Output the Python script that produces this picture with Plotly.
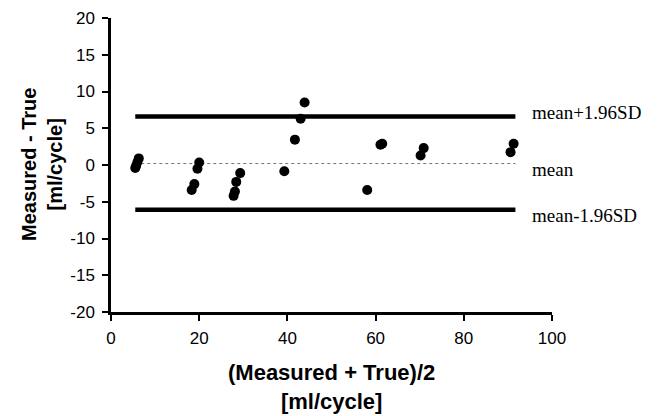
import plotly.graph_objects as go

avg = [5.5, 5.7, 6.0, 6.3, 18.3, 18.9, 19.6, 20.0, 27.8, 28.1, 28.4, 29.3,
       39.3, 41.7, 43.0, 43.9, 58.1, 61.1, 61.5, 70.2, 70.9, 90.6, 91.3]
diff = [-0.4, -0.1, 0.4, 0.9, -3.4, -2.6, -0.5, 0.35, -4.2, -3.6, -2.3, -1.1,
        -0.85, 3.45, 6.3, 8.5, -3.4, 2.75, 2.9, 1.3, 2.3, 1.75, 2.9]

mean_val = 0.2
upper_val = 6.6
lower_val = -6.1
line_labels = ["mean+1.96SD", "mean", "mean-1.96SD"]

x_ticks = [0, 20, 40, 60, 80, 100]
y_ticks = [-20, -15, -10, -5, 0, 5, 10, 15, 20]
y_ticktext = ["-20", "-15", "-10", "-5", "0", "5", "10", "15", "20"]

xr = [min(avg), max(avg) + 0.4]

fig = go.Figure()
fig.add_trace(go.Scatter(x=xr, y=[upper_val, upper_val], mode="lines",
                         line=dict(color="black", width=4.5), showlegend=False))
fig.add_trace(go.Scatter(x=xr, y=[lower_val, lower_val], mode="lines",
                         line=dict(color="black", width=4.5), showlegend=False))
fig.add_trace(go.Scatter(x=xr, y=[mean_val, mean_val], mode="lines",
                         line=dict(color="#777777", width=1, dash="dot"), showlegend=False))
fig.add_trace(go.Scatter(x=avg, y=diff, mode="markers",
                         marker=dict(color="black", size=10), showlegend=False))

label_y = [upper_val + 0.6, mean_val - 0.75, lower_val - 0.8]
for t, yv in zip(line_labels, label_y):
    fig.add_annotation(x=95.0, y=yv, xref="x", yref="y", text=t, showarrow=False,
                       xanchor="left", yanchor="middle",
                       font=dict(family="Liberation Serif", size=19, color="black"))

fig.add_annotation(x=0.5, y=0, xref="paper", yref="paper", yshift=-75,
                   text="<b>(Measured + True)/2<br>[ml/cycle]</b>", showarrow=False,
                   xanchor="center", yanchor="middle",
                   font=dict(family="Liberation Sans", size=22, color="black"))
fig.add_annotation(x=0, y=0.5, xref="paper", yref="paper", xshift=-69,
                   text="<b>Measured - True<br>[ml/cycle]</b>", showarrow=False,
                   textangle=-90, xanchor="center", yanchor="middle",
                   font=dict(family="Liberation Sans", size=20, color="black"))

fig.update_layout(
    width=649, height=408,
    margin=dict(l=103, r=105, t=10, b=104),
    paper_bgcolor="white", plot_bgcolor="white",
    font=dict(family="Liberation Sans", color="black"),
)
fig.update_xaxes(range=[0, 100], tickvals=x_ticks, automargin=False,
                 showgrid=False, zeroline=False, showline=True, linecolor="black",
                 linewidth=2.5, ticks="outside", ticklen=6, tickwidth=2, tickcolor="black",
                 ticklabelstandoff=3,
                 tickfont=dict(size=17, family="Liberation Sans", color="black"))
fig.update_yaxes(range=[-20, 20], tickvals=y_ticks, ticktext=y_ticktext, automargin=False,
                 showgrid=False, zeroline=False, showline=True, linecolor="black",
                 linewidth=2.5, ticks="outside", ticklen=6, tickwidth=2, tickcolor="black",
                 ticklabelstandoff=4,
                 tickfont=dict(size=17, family="Liberation Sans", color="black"))

fig.write_html("out.html")
